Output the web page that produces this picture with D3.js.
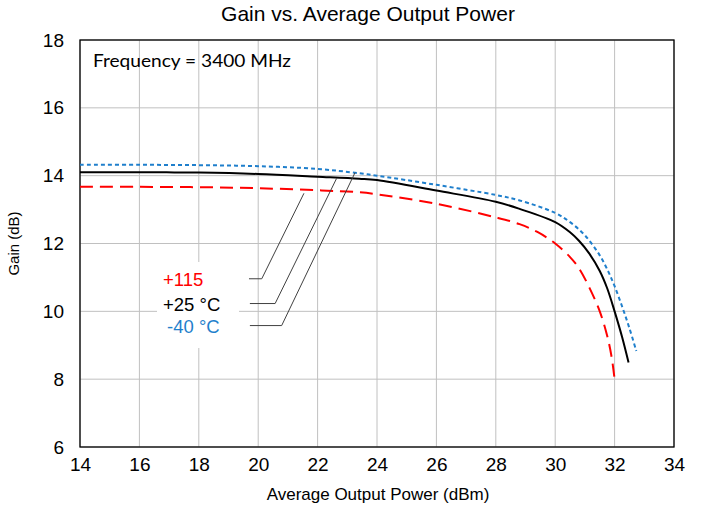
<!DOCTYPE html>
<html><head><meta charset="utf-8">
<script src="https://cdn.jsdelivr.net/npm/d3@7"></script>
<style>body{margin:0;background:#fff}svg{display:block}</style>
</head><body>
<script>
const xTicks = [14,16,18,20,22,24,26,28,30,32,34];
const yTicks = [6,8,10,12,14,16,18];

const powerM40 = [14,16,18,20,22,23.4,24,26,28,28.8,30,30.5,31,31.5,31.8,32,32.25,32.5,32.73];
const gainM40  = [14.32,14.32,14.31,14.28,14.2,14.07,14.0,13.73,13.43,13.27,12.9,12.63,12.24,11.65,11.15,10.74,10.15,9.5,8.83];

const power25 = [14,16,18,20,22,23.4,24,26,28,28.8,30,30.5,30.8,31.15,31.5,31.75,32,32.25,32.47];
const gain25  = [14.10,14.10,14.09,14.05,13.97,13.91,13.87,13.56,13.23,13.02,12.63,12.33,12.08,11.7,11.19,10.68,10.0,9.25,8.49];

const power115 = [14,16,18,20,22,23.4,24,26,28,28.8,29.4,30,30.5,30.8,31.15,31.5,31.75,31.9,32];
const gain115  = [13.67,13.67,13.66,13.63,13.57,13.51,13.45,13.17,12.77,12.57,12.34,12.0,11.6,11.27,10.7,10.0,9.28,8.65,8.0];

const seriesNames = ["+115", "+25 °C", "-40 °C"];
// leader lines: [label end x, knee x, curve x] and [label y, curve y] in data units
const leaderX = [[19.69,20.12,21.54],[19.72,20.57,22.64],[19.72,20.79,23.26]];
const leaderY = [[10.96,13.48],[10.23,13.92],[9.58,14.09]];

const W = 709, H = 508;
const m = {l:80, r:35, t:40, b:61};
const svg = d3.select("body").append("svg").attr("width",W).attr("height",H);
const x = d3.scaleLinear().domain([14,34]).range([m.l, W-m.r]);
const y = d3.scaleLinear().domain([6,18]).range([H-m.b, m.t]);

// gridlines
const g = svg.append("g");
g.selectAll(".vx").data(xTicks).join("line")
  .attr("x1",d=>x(d)).attr("x2",d=>x(d)).attr("y1",y(6)).attr("y2",y(18))
  .attr("stroke","#c0c0c0").attr("stroke-width",1);
g.selectAll(".hy").data(yTicks).join("line")
  .attr("x1",x(14)).attr("x2",x(34)).attr("y1",d=>y(d)).attr("y2",d=>y(d))
  .attr("stroke","#c0c0c0").attr("stroke-width",1);

// frame
svg.append("rect").attr("x",x(14)).attr("y",y(18)).attr("width",x(34)-x(14)).attr("height",y(6)-y(18))
  .attr("fill","none").attr("stroke","#000").attr("stroke-width",1.3);

// axes (labels only)
const xa = svg.append("g").attr("transform",`translate(0,${y(6)})`)
  .call(d3.axisBottom(x).tickValues(xTicks).tickSize(0).tickPadding(11).tickFormat(d3.format("d")));
const ya = svg.append("g").attr("transform",`translate(${x(14)},0)`)
  .call(d3.axisLeft(y).tickValues(yTicks).tickSize(0).tickPadding(16).tickFormat(d3.format("d")));
[xa,ya].forEach(a=>{a.select(".domain").remove();
  a.selectAll("text").attr("font-family","Liberation Sans Narrow, Liberation Sans, Arial").attr("font-size",19).attr("fill","#000");});

const line = d3.line().x(d=>x(d[0])).y(d=>y(d[1])).curve(d3.curveCatmullRom.alpha(0.5));
const series = [
  {p:power115, g:gain115, c:"#ff0000", dash:"13,7", w:2},
  {p:power25, g:gain25, c:"#000000", dash:null, w:2},
  {p:powerM40, g:gainM40, c:"#1f7fcc", dash:"4,3", w:2},
];
series.forEach(s=>{
  svg.append("path").datum(d3.zip(s.p,s.g)).attr("d",line)
    .attr("fill","none").attr("stroke",s.c).attr("stroke-width",s.w)
    .attr("stroke-dasharray",s.dash);
});

// label background
svg.append("rect").attr("x",157).attr("y",262).attr("width",82).attr("height",86).attr("fill","#fff");

// leaders
const colors = ["#ff0000","#000000","#1f7fcc"];
leaderX.forEach((lx,i)=>{
  const pts = [[lx[0],leaderY[i][0]],[lx[1],leaderY[i][0]],[lx[2],leaderY[i][1]]];
  svg.append("path").datum(pts).attr("d",d3.line().x(d=>x(d[0])).y(d=>y(d[1])))
    .attr("fill","none").attr("stroke","#404040").attr("stroke-width",1);
});
const labelX = [163,163,167];
seriesNames.forEach((n,i)=>{
  svg.append("text").attr("x",labelX[i]).attr("y",y(leaderY[i][0])+7)
    .attr("font-family","Liberation Sans, Arial").attr("font-size",18.5).attr("fill",colors[i]).text(n);
});

// title & axis titles
svg.append("text").attr("x",368).attr("y",21).attr("text-anchor","middle")
  .attr("font-family","Liberation Sans Narrow, Liberation Sans, Arial").attr("font-size",21).text("Gain vs. Average Output Power");
svg.append("text").attr("x",378).attr("y",500).attr("text-anchor","middle")
  .attr("font-family","Liberation Sans Narrow, Liberation Sans, Arial").attr("font-size",17).text("Average Output Power (dBm)");
svg.append("text").attr("transform",`translate(19,${(y(6)+y(18))/2}) rotate(-90)`).attr("text-anchor","middle")
  .attr("font-family","Liberation Sans Narrow, Liberation Sans, Arial").attr("font-size",15).text("Gain (dB)");
svg.append("text").attr("x",93).attr("y",67)
  .attr("font-family","Lato, Open Sans, sans-serif").attr("font-size",18)
  .attr("textLength",198).attr("lengthAdjust","spacingAndGlyphs").text("Frequency = 3400 MHz");
</script>
</body></html>
